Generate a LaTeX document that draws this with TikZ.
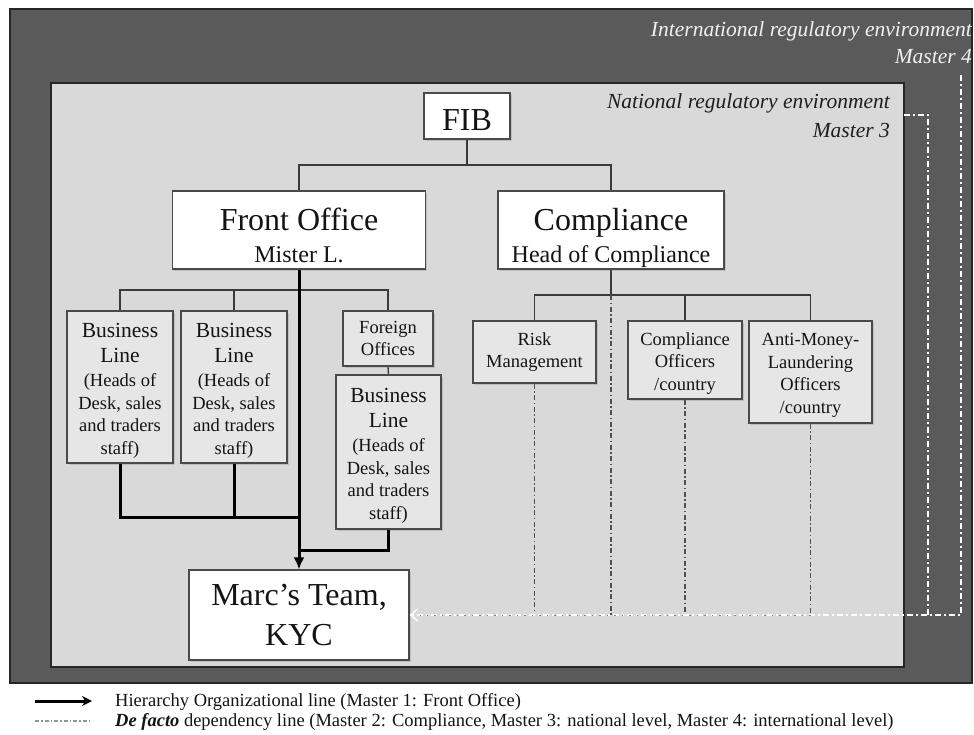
\documentclass[tikz,border=0pt]{standalone}
\usepackage{fontspec}
\setmainfont{Liberation Serif}
\usetikzlibrary{arrows.meta,shadows}
\definecolor{outerc}{HTML}{5A5A5A}
\definecolor{innerc}{HTML}{D9D9D9}
\definecolor{boxc}{HTML}{E6E6E6}
\definecolor{edgec}{HTML}{4A4A4A}
\definecolor{linec}{HTML}{3A3A3A}
\definecolor{ddc}{HTML}{505050}
\newcommand\fsz[2]{\fontsize{#1}{#2}\selectfont}
\newcommand\BLtext{{\fsz{21.5}{26}\rule{0pt}{21pt}Business}\\[3pt]{\fsz{21.5}{26}Line}\\[1.5pt](Heads of\\Desk, sales\\and traders\\staff)}
\begin{document}
\begin{tikzpicture}[x=1pt,y=-1pt,
  obox/.style={draw=edgec, line width=1.2pt, fill=boxc, inner sep=0pt, align=center,
    font=\fsz{18.5}{22.5}, text=black!92,
    drop shadow={shadow xshift=1.5pt,shadow yshift=-1.5pt,opacity=0.3}},
  wobox/.style={obox, fill=white},
  tlabel/.style={inner sep=0pt, text=black!92},
  tree/.style={draw=linec, line width=1.3pt},
  hier/.style={draw=black, line width=3pt},
  dd/.style={draw=ddc, line width=1.3pt, dash pattern=on 5pt off 2.5pt on 1.5pt off 2.5pt},
  ddw/.style={draw=white, line width=1.6pt, dash pattern=on 6pt off 3pt on 2pt off 3pt},
  ]
\fill[white] (0,0) rectangle (974,734);
\useasboundingbox (0,0) rectangle (974,734);

% regions
\node[draw=black!85, line width=1.5pt, fill=outerc, minimum width=962pt, minimum height=674pt, inner sep=0pt] (outer) at (491,346) {};
\node[draw=black!85, line width=1.5pt, fill=innerc, minimum width=853pt, minimum height=584pt, inner sep=0pt] (inner) at (477.5,375) {};

\node[anchor=base east, inner sep=0pt, font=\itshape\fsz{21.5}{26}, text=white!94!black] (intl1) at (972,36) {International regulatory environment};
\node[anchor=base east, inner sep=0pt, font=\itshape\fsz{21.5}{26}, text=white!94!black] (intl2) at (972,63) {Master 4};
\node[anchor=base east, inner sep=0pt, font=\itshape\fsz{21.5}{26}, text=black!88] (nat1) at (890,108) {National regulatory environment};
\node[anchor=base east, inner sep=0pt, font=\itshape\fsz{21.5}{26}, text=black!88] (nat2) at (890,137) {Master 3};

% top boxes
\node[wobox, minimum width=86pt, minimum height=46pt] (fib) at (467,116) {};
\node[tlabel, anchor=base, font=\fsz{32}{38}] (fibt) at (467,130) {FIB};
\node[wobox, minimum width=253pt, minimum height=78pt] (fo) at (299,230) {};
\node[tlabel, anchor=base, font=\fsz{32}{38}] (fot) at (299,230) {Front Office};
\node[tlabel, anchor=base, font=\fsz{24}{28}] (fos) at (299,262) {Mister L.};
\node[wobox, minimum width=226pt, minimum height=78pt] (comp) at (611,230) {};
\node[tlabel, anchor=base, font=\fsz{32}{38}] (compt) at (611,230) {Compliance};
\node[tlabel, anchor=base, font=\fsz{24}{28}] (comps) at (611,262) {Head of Compliance};

% front office subordinates
\node[obox, minimum width=106pt, minimum height=152pt] (bl1) at (120,387) {\BLtext};
\node[obox, minimum width=106pt, minimum height=152pt] (bl2) at (234,387) {\BLtext};
\node[obox, minimum width=90pt, minimum height=55pt] (forg) at (388,338.5) {Foreign\\Offices};
\node[obox, minimum width=105pt, minimum height=154pt] (bl3) at (388.5,452) {\BLtext};

% compliance subordinates
\node[obox, minimum width=123pt, minimum height=62pt] (rm) at (534.5,352) {Risk\\Management};
\node[obox, minimum width=114pt, minimum height=78pt] (co) at (685,360) {\rule{0pt}{19pt}Compliance\\Officers\\/country};
\node[obox, minimum width=123pt, minimum height=102pt] (aml) at (810.5,372) {\rule{0pt}{19pt}Anti-Money-\\Laundering\\Officers\\/country};

% Marc's team
\node[wobox, minimum width=220pt, minimum height=90pt, font=\fsz{32}{40}] (marc) at (299,615) {Marc’s Team,\\KYC};

% tree connectors
\coordinate (fibbr) at (467,165);
\draw[tree] (fo.north) |- (fibbr) -| (comp.north);
\draw[tree] (fib.south) -- (fibbr);
\coordinate (fobr) at (299,290);
\draw[tree] (bl1.north) |- (fobr) -| (forg.north);
\draw[tree] (bl2.north) -- (bl2.north |- fobr);
\draw[tree] (forg.south) -- (bl3.north);
\coordinate (cbr) at (611,295);
\draw[tree] (rm.north) |- (cbr) -| (aml.north);
\draw[tree] (co.north) -- (co.north |- cbr);
\draw[tree] (comp.south) -- (cbr);

% de facto dependency lines
\draw[dd] (rm.south) -- (rm.south |- marc.east);
\draw[dd] (cbr) -- (cbr |- marc.east);
\draw[dd] (co.south) -- (co.south |- marc.east);
\draw[dd] (aml.south) -- (aml.south |- marc.east);
\coordinate (m3) at (904,115);
\coordinate (m3d) at (928,615);
\coordinate (m4) at (961,75);
\draw[ddw] (m3) -| (m3d);
\draw[ddw, -{Straight Barb[length=7pt,width=12pt,line width=1.4pt]}] (m4) |- (marc.east);
\draw[draw=ddc!70, line width=1pt, dash pattern=on 1.2pt off 6.3pt] (aml.south |- marc.east) -- ([xshift=10pt]marc.east);

% hierarchy lines
\coordinate (hj1) at (299,517);
\coordinate (hj2) at (299,550);
\draw[hier] (bl1.south) |- (hj1);
\draw[hier] (bl2.south) -- (bl2.south |- hj1);
\draw[hier] (bl3.south) |- (hj2);
\draw[hier, -{Latex[length=12pt,width=11pt]}] (fo.south) -- (marc.north);

% legend
\coordinate (la) at (35,701);
\coordinate (lb) at (92,701);
\draw[hier, -{Stealth[length=10pt,width=10pt]}] (la) -- (lb);
\node[tlabel, anchor=base west, font=\fsz{18.5}{22}] (lg1) at (115,706) {Hierarchy Organizational line (Master 1: Front Office)};
\coordinate (lc) at (35,721);
\coordinate (ld) at (90,721);
\draw[draw=gray!85, line width=1.3pt, dash pattern=on 4pt off 2pt on 1.5pt off 2pt] (lc) -- (ld);
\node[tlabel, anchor=base west, font=\fsz{18.5}{22}] (lg2) at (115,726) {\textbf{\textit{De facto}} dependency line (Master 2: Compliance, Master 3: national level, Master 4: international level)};
\end{tikzpicture}
\end{document}
